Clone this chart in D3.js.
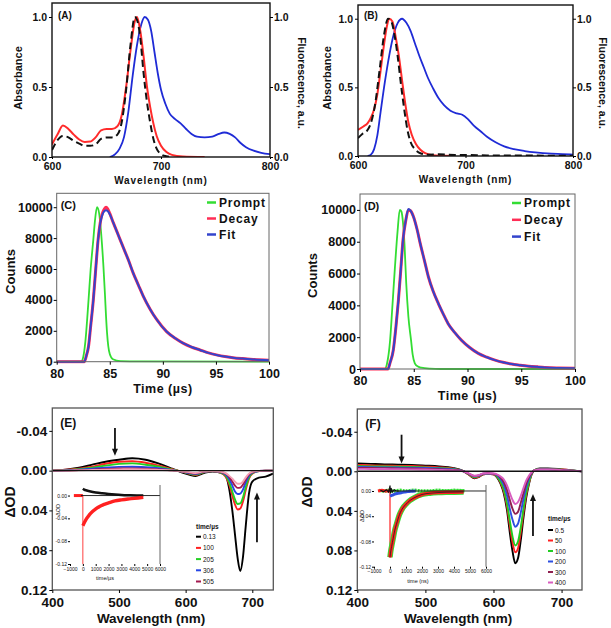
<!DOCTYPE html>
<html><head><meta charset="utf-8">
<script src="https://cdn.jsdelivr.net/npm/d3@7"></script>
<style>body{margin:0;background:#fff} svg{display:block}</style>
</head><body><script>
// ---------- DATA ----------
// Panel A
const wlAbsA = [600,605,610,615,620,625,630,635,640,645,650,655,660,664,668,672,676,678,681,684,687,690,693,696,700,705,710,720,740];
const absRedA = [0.09,0.16,0.225,0.2,0.16,0.125,0.108,0.11,0.14,0.19,0.2,0.2,0.22,0.3,0.5,0.76,0.97,1.0,0.9,0.72,0.51,0.36,0.24,0.15,0.08,0.035,0.015,0.004,0];
const absDashA = [0.05,0.12,0.15,0.14,0.115,0.095,0.08,0.08,0.09,0.13,0.14,0.14,0.16,0.25,0.48,0.8,1.0,0.98,0.85,0.6,0.4,0.25,0.13,0.06,0.02,0.005,0,null,null];
const wlFluA = [653,658,662,666,670,674,678,682,685,688,691,694,697,700,704,708,713,718,723,728,733,740,747,753,758,763,768,773,778,785,792,800];
const fluA = [0,0.02,0.06,0.14,0.32,0.58,0.8,0.95,1.0,0.98,0.9,0.75,0.6,0.48,0.38,0.31,0.27,0.24,0.2,0.165,0.145,0.14,0.145,0.165,0.175,0.165,0.14,0.1,0.07,0.045,0.03,0.02];
// Panel B
const wlRedB = [600,605,609,612,615,618,621,624,627,629,632,635,638,641,644,647,650,654,658,662,667,672,680,690];
const absRedB = [0.19,0.215,0.24,0.28,0.34,0.45,0.62,0.8,0.95,1.0,0.98,0.87,0.73,0.55,0.38,0.24,0.155,0.085,0.045,0.022,0.01,0.004,0.001,0];
const wlDashB = [600,604,608,612,616,620,624,628,631,634,637,640,643,646,649,653,658,665,675,690,700,720,760,800];
const absDashB = [0.13,0.16,0.18,0.24,0.38,0.62,0.87,1.0,0.98,0.88,0.72,0.52,0.34,0.19,0.1,0.05,0.02,0.01,0.012,0.008,0.008,0.004,0.003,0.002];
const wlFluB = [609,612,615,618,621,625,629,633,637,641,645,649,653,657,661,665,670,675,680,686,692,697,702,708,714,720,728,736,745,755,765,780,790,800];
const fluB = [0,0.01,0.05,0.15,0.32,0.54,0.73,0.88,0.97,1.0,0.97,0.91,0.82,0.73,0.65,0.57,0.49,0.42,0.37,0.33,0.31,0.3,0.27,0.22,0.18,0.14,0.1,0.07,0.05,0.036,0.026,0.017,0.014,0.01];
const absTicks = [0, 0.5, 1.0];
const wlTicksAB = [600, 700, 800];
// Panel C
const tPromptC = [80,82.3,82.5,82.7,83.0,83.2,83.45,83.6,83.8,84.0,84.2,84.4,84.55,84.65,84.75,84.86,85.0,85.3,86.0,88,100];
const promptC = [0,0,300,1300,4000,6000,7900,9100,10000,9600,8200,6200,4300,2900,1800,1000,500,160,40,20,0];
const tDecayC = [80,82.6,82.8,83.0,83.2,83.45,83.7,83.9,84.1,84.3,84.5,84.65,84.8,85.0,85.33,85.8,86.27,86.8,87.2,87.7,88.15,88.8,89.4,90.35,91.2,91.9,92.7,93.5,94.3,95.05,96,96.6,97.5,98.5,100];
const decayC = [0,0,400,1000,2300,4000,6200,7900,9000,9600,9900,10000,9900,9600,9000,8200,7400,6500,5750,4950,4250,3400,2750,1950,1500,1200,950,760,570,440,320,260,200,150,100];
const fitC = [0,0,400,1000,2300,4000,6200,7900,8950,9500,9750,9800,9750,9550,9000,8200,7400,6500,5750,4950,4250,3400,2750,1950,1500,1200,950,760,570,440,320,260,200,150,100];
// Panel D
const tPromptD = [80,82.3,82.5,82.8,83.0,83.25,83.5,83.7,83.85,84.0,84.15,84.3,84.5,84.75,84.9,85.1,85.4,85.7,86.5,87.5,100];
const promptD = [0,0,300,1800,3800,6400,8700,10000,9900,9200,7700,5400,3300,1800,900,360,150,80,20,0,0];
const tDecayD = [80,82.6,82.8,83.1,83.35,83.57,83.8,84.0,84.25,84.5,84.7,84.96,85.3,85.6,86.0,86.36,86.8,87.3,87.75,88.2,88.8,89.45,90.2,91,91.8,92.56,93.3,94.1,94.9,95.7,96.5,97.2,98.5,100];
const decayD = [0,0,400,1200,2700,4300,6300,8100,9300,10000,9950,9600,8800,7900,6800,5800,4900,4100,3450,2850,2300,1800,1350,980,740,560,420,310,240,180,135,100,65,40];
const fitD = [0,0,400,1200,2700,4300,6300,8100,9300,10050,9950,9600,8800,7900,6800,5800,4900,4100,3450,2850,2300,1800,1350,980,740,560,420,310,240,180,135,100,65,40];
const countTicks = [0,2000,4000,6000,8000,10000];
const timeTicks = [80,85,90,95,100];
const legendCD = ["Prompt","Decay","Fit"];
// Panel E
const wlE = [400,420,440,460,480,500,520,540,560,580,595,605,615,625,640,652,660,665,670,674,678,682,686,690,695,700,710,720,731];
const odE_013 = [0,-0.001,-0.003,-0.006,-0.009,-0.011,-0.0125,-0.011,-0.007,-0.002,0.002,0.004,0.0055,0.003,0.001,0.002,0.005,0.017,0.04,0.064,0.088,0.101,0.087,0.057,0.023,0.011,0.007,0.006,0.003];
const odE_100 = [0,-0.001,-0.002,-0.004,-0.007,-0.009,-0.0095,-0.008,-0.005,-0.0015,0.001,0.003,0.0045,0.002,0.0005,0.002,0.006,0.013,0.025,0.034,0.039,0.038,0.031,0.02,0.008,0.003,0.0005,0,0];
const odE_205 = [0,-0.0005,-0.0015,-0.003,-0.005,-0.0068,-0.0073,-0.006,-0.004,-0.001,0.001,0.0028,0.004,0.002,0.0005,0.002,0.005,0.011,0.021,0.029,0.0335,0.033,0.027,0.017,0.007,0.0025,0.0005,0,0];
const odE_306 = [0,-0.0003,-0.001,-0.002,-0.003,-0.0038,-0.004,-0.0035,-0.0025,-0.0005,0.001,0.0025,0.0035,0.0015,0.0005,0.0015,0.004,0.008,0.015,0.021,0.0235,0.023,0.019,0.012,0.005,0.002,0.0003,0,0];
const odE_505 = [0,0,-0.0005,-0.001,-0.0017,-0.0022,-0.0023,-0.002,-0.0013,-0.0003,0.001,0.002,0.003,0.0012,0.0004,0.0012,0.003,0.006,0.011,0.015,0.0173,0.017,0.014,0.009,0.004,0.0015,0.0002,0,0];
const odE_late = [0,0,-0.0003,-0.0006,-0.001,-0.0013,-0.0014,-0.0012,-0.0008,-0.0002,0.0008,0.0015,0.0025,0.001,0.0003,0.001,0.0025,0.005,0.008,0.011,0.0132,0.013,0.011,0.007,0.003,0.0012,0.0002,0,0];
const legendE = ["0.13","100","205","306","505"];
// Panel F
const wlF = [400,420,440,460,480,500,520,540,555,565,572,578,585,592,600,605,610,615,620,624,628,632,636,640,644,648,652,656,660,668,680,700,715,730];
const odF_05 = [-0.008,-0.0075,-0.007,-0.0068,-0.0065,-0.0058,-0.005,-0.0035,-0.0005,0.004,0.007,0.006,0.003,0.0025,0.003,0.006,0.012,0.022,0.04,0.062,0.081,0.093,0.088,0.07,0.047,0.027,0.013,0.003,-0.001,-0.003,-0.003,-0.002,-0.001,0];
const odF_50 = [-0.0065,-0.006,-0.0057,-0.0055,-0.0053,-0.0047,-0.004,-0.0028,-0.0004,0.0038,0.0065,0.0055,0.003,0.0025,0.003,0.0055,0.011,0.02,0.036,0.055,0.072,0.082,0.078,0.062,0.042,0.024,0.012,0.003,-0.001,-0.0025,-0.0025,-0.0018,-0.001,0];
const odF_100 = [-0.0055,-0.005,-0.0048,-0.0046,-0.0044,-0.004,-0.0034,-0.0024,-0.0003,0.0035,0.006,0.005,0.0028,0.0024,0.0028,0.005,0.01,0.018,0.033,0.05,0.066,0.075,0.071,0.057,0.038,0.022,0.011,0.0025,-0.001,-0.0023,-0.0023,-0.0016,-0.0008,0];
const odF_200 = [-0.0045,-0.0042,-0.004,-0.0038,-0.0036,-0.0033,-0.0028,-0.002,-0.0003,0.003,0.0052,0.0045,0.0025,0.0022,0.0026,0.004,0.0075,0.0135,0.025,0.038,0.049,0.056,0.053,0.042,0.028,0.016,0.008,0.002,-0.001,-0.002,-0.002,-0.0014,-0.0007,0];
const odF_300 = [-0.0035,-0.0033,-0.0031,-0.003,-0.0028,-0.0025,-0.0021,-0.0015,-0.0002,0.0028,0.0048,0.0042,0.0023,0.002,0.0024,0.0035,0.006,0.0105,0.019,0.029,0.038,0.043,0.041,0.032,0.022,0.0125,0.006,0.0015,-0.001,-0.002,-0.002,-0.0013,-0.0006,0];
const odF_400 = [-0.0025,-0.0024,-0.0023,-0.0022,-0.002,-0.0018,-0.0015,-0.001,-0.0001,0.0026,0.0045,0.004,0.0022,0.0019,0.0022,0.003,0.005,0.008,0.0145,0.022,0.029,0.033,0.031,0.025,0.017,0.0095,0.0045,0.001,-0.001,-0.0018,-0.0018,-0.0012,-0.0005,0];
const legendF = ["0.5","50","100","200","300","400"];
const odTicks = [-0.04, 0, 0.04, 0.08, 0.12];
const wlTicksEF = [400, 500, 600, 700];
// Arrows (wavelength, from, to)
const arrowsE = [[494,-0.043,-0.015],[707,0.072,0.022]];
const arrowsF = [[465,-0.037,-0.008],[658,0.0655,0.023]];
// Inset E (kinetics)
const tBlackE = [0,100,300,600,1000,1500,2000,2500,3000,3600,4200,4700];
const blackInsetE = [0.012,0.0105,0.009,0.0072,0.0055,0.004,0.0028,0.0018,0.001,0.0005,0.0002,0];
const tRedPreE = [-700,-500,-300,-100,0];
const redPreE = [0,0,0,0,0];
const tRedE = [0,150,300,500,750,1000,1300,1600,2000,2500,3000,3500,4000,4700];
const redInsetE = [-0.053,-0.046,-0.04,-0.034,-0.028,-0.0235,-0.019,-0.016,-0.013,-0.0095,-0.0075,-0.006,-0.005,-0.003];
const spikeE = [0, -0.12];
// Inset F
const tRedPreF = [-750,-500,-250,0];
const redPreF = [0,0.001,0,0];
const tRedF = [0,50,100,200,300,400,600,800,1000,1250,1500,2000,2500,3000,3500,4000,4600];
const redInsetF = [-0.105,-0.095,-0.088,-0.075,-0.062,-0.053,-0.037,-0.027,-0.021,-0.015,-0.011,-0.0055,-0.0035,-0.0025,-0.002,-0.0018,-0.0015];
const spikeF = [0, -0.106];
const tBlackF = [-600,-400,-200,-100,-30,0,30,80,150,250,400,600];
const blackInsetF = [0.001,-0.001,0.002,-0.002,0.004,0.008,-0.003,0.004,-0.002,0.002,0,0];
const tBlueF = [0,150,300,500,700,900,1100,1300,1600];
const blueInsetF = [-0.008,-0.0065,-0.005,-0.0038,-0.0027,-0.0018,-0.001,-0.0005,0];
const tGreenF = [-700,-400,-100,200,600,1000,1500,2000,2500,3000,3500,4000,4700];
const greenInsetF = [0.001,0,0.001,0,0.001,0,0.001,0,0,0.001,0,0.001,0];
const insetTimeTicks = [-1000,0,1000,2000,3000,4000,5000,6000];
const insetOdTicks = [0,-0.04,-0.08,-0.12];

// ---------- DRAW ----------
const FONT = '"Liberation Sans", Arial, Helvetica, sans-serif';
const svg = d3.select("body").append("svg").attr("width",611).attr("height",628);
let clipN = 0;
function clipG(x0,y0,x1,y1){
  const id = "clip"+(clipN++);
  svg.append("clipPath").attr("id",id).append("rect").attr("x",x0).attr("y",y0).attr("width",x1-x0).attr("height",y1-y0);
  return svg.append("g").attr("clip-path",`url(#${id})`);
}
function frame(x0,y0,x1,y1,stroke,sw){
  svg.append("rect").attr("x",x0).attr("y",y0).attr("width",x1-x0).attr("height",y1-y0)
    .attr("fill","none").attr("stroke",stroke).attr("stroke-width",sw);
}
function drawLine(g, xs, ys, sx, sy, color, w, opts={}){
  const pts = xs.map((x,i)=>[x,ys[i]]).filter(p=>p[1]!=null);
  const gen = d3.line().x(p=>sx(p[0])).y(p=>sy(p[1])).curve(opts.curve || d3.curveMonotoneX);
  return g.append("path").attr("d",gen(pts)).attr("fill","none").attr("stroke",color)
    .attr("stroke-width",w).attr("stroke-dasharray",opts.dash||null)
    .attr("stroke-linejoin","round").attr("stroke-linecap",opts.cap||"butt")
    .attr("opacity",opts.op||1);
}
function axis(gen, tx, ty, fs, fw, opts={}){
  const g = svg.append("g").attr("transform",`translate(${tx},${ty})`).call(gen);
  g.select(".domain").remove();
  g.selectAll("line").attr("stroke",opts.tc||"#000").attr("stroke-width",opts.tw||1);
  g.selectAll("text").attr("font-family",FONT).attr("font-size",fs).attr("font-weight",fw).attr("fill","#111")
    .attr("letter-spacing",opts.ls||null);
  return g;
}
function text(x,y,t,fs,opts={}){
  const el = svg.append("text").attr("font-family",FONT).attr("font-size",fs)
    .attr("font-weight",opts.fw||"bold").attr("fill",opts.fill||"#111")
    .attr("text-anchor",opts.anchor||"middle").attr("dominant-baseline","central")
    .attr("letter-spacing",opts.ls||null)
    .attr("transform",`translate(${x},${y})`+(opts.rot?` rotate(${opts.rot})`:""))
    .text(t);
  return el;
}
const f1 = d3.format(".1f");
const f2 = d => (Math.abs(d)<1e-9?0:d).toFixed(2);

// ===== Panel A & B =====
function specPanel(cfg){
  const x = d3.scaleLinear([600,800],[cfg.x0,cfg.x1]);
  const y = d3.scaleLinear([0,1.1],[cfg.y1,cfg.y0]);
  const g = clipG(cfg.x0,cfg.y0,cfg.x1,cfg.y1);
  cfg.draw(g,x,y);
  frame(cfg.x0,cfg.y0,cfg.x1,cfg.y1,"#111",1.4);
  axis(d3.axisLeft(y).tickValues(absTicks).tickFormat(f1).tickSize(3).tickPadding(2), cfg.x0,0,10.5,"bold");
  axis(d3.axisRight(y).tickValues(absTicks).tickFormat(f1).tickSize(3).tickPadding(1), cfg.x1,0,10.5,"bold");
  axis(d3.axisBottom(x).tickValues(wlTicksAB).tickFormat(d3.format("d")).tickSize(2).tickPadding(4), 0,cfg.y1,10.5,"bold");
  text((cfg.x0+cfg.x1)/2, cfg.y1+23, "Wavelength (nm)", 10, {ls:0.9});
  text(cfg.absX, 78, "Absorbance", 11, {rot:-90});
  text(cfg.fluX, 83, "Fluorescence, a.u.", 10.5, {rot:90});
  text(cfg.x0+6, 15, cfg.lab, 10, {anchor:"start"});
}
specPanel({x0:52,x1:270,y0:3,y1:157,absX:18,fluX:302,lab:"(A)",draw:(g,x,y)=>{
  drawLine(g,wlFluA,fluA,x,y,"#1f2bd6",1.8);
  drawLine(g,wlAbsA,absRedA,x,y,"#ff2b2b",2);
  drawLine(g,wlAbsA,absDashA,x,y,"#111",2,{dash:"7,4"});
}});
specPanel({x0:358,x1:573,y0:5,y1:156,absX:327,fluX:603,lab:"(B)",draw:(g,x,y)=>{
  drawLine(g,wlFluB,fluB,x,y,"#1f2bd6",1.8);
  drawLine(g,wlRedB,absRedB,x,y,"#ff2b2b",2);
  drawLine(g,wlDashB,absDashB,x,y,"#111",2,{dash:"7,4"});
}});

// ===== Panel C & D =====
function decayPanel(cfg){
  const x = d3.scaleLinear([80,100],[cfg.x0,cfg.x1]);
  const y = d3.scaleLinear([0,cfg.ymax],[cfg.y1,cfg.y0]);
  const g = clipG(cfg.x0,cfg.y0,cfg.x1,cfg.y1+2);
  drawLine(g,cfg.tp,cfg.p,x,y,"#33dd33",1.8);
  drawLine(g,cfg.td,cfg.d,x,y,"#ff2d55",3);
  drawLine(g,cfg.td,cfg.f,x,y,"#3344cc",2);
  frame(cfg.x0,cfg.y0,cfg.x1,cfg.y1,"#666",1);
  axis(d3.axisLeft(y).tickValues(countTicks).tickFormat(d3.format("d")).tickSize(3).tickPadding(1), cfg.x0,0,12.5,"bold");
  axis(d3.axisBottom(x).tickValues(timeTicks).tickFormat(d3.format("d")).tickSize(3).tickPadding(4), 0,cfg.y1,12.5,"bold");
  text((cfg.x0+cfg.x1)/2, cfg.y1+27, "Time (\u00b5s)", 12.5, {ls:0.5});
  text(cfg.cx, (cfg.y0+cfg.y1)/2+(cfg.cdy||0), "Counts", 13, {rot:-90});
  text(cfg.x0+4, cfg.y0+12, cfg.lab, 11, {anchor:"start"});
  const cols = ["#33dd33","#ff2d55","#3344cc"];
  legendCD.forEach((s,i)=>{
    const yy = cfg.ly + i*cfg.lsp;
    svg.append("line").attr("x1",cfg.lx).attr("x2",cfg.lx+9).attr("y1",yy).attr("y2",yy).attr("stroke",cols[i]).attr("stroke-width",2.5);
    text(cfg.lx+12, yy, s, 12, {anchor:"start", ls:0.8, fw:"bold"});
  });
}
decayPanel({x0:56.7,x1:269,y0:193.3,y1:361.7,ymax:10900,tp:tPromptC,p:promptC,td:tDecayC,d:decayC,f:fitC,cx:10,cdy:-6,lab:"(C)",lx:207,ly:202.5,lsp:16});
decayPanel({x0:360,x1:575,y0:194,y1:369,ymax:11000,tp:tPromptD,p:promptD,td:tDecayD,d:decayD,f:fitD,cx:312,cdy:-6,lab:"(D)",lx:512,ly:203,lsp:16.8});

// ===== Panel E & F =====
function arrow(x,y,wl,from,to){
  const X = x(wl), Y1 = y(from), Y2 = y(to);
  const dir = Y2>Y1?1:-1;
  svg.append("line").attr("x1",X).attr("x2",X).attr("y1",Y1).attr("y2",Y2-dir*5).attr("stroke","#111").attr("stroke-width",1.8);
  svg.append("path").attr("d",`M${X-3},${Y2-dir*7}L${X+3},${Y2-dir*7}L${X},${Y2}Z`).attr("fill","#111");
}
function taPanel(cfg){
  const x = d3.scaleLinear([400,cfg.xmax],[cfg.x0,cfg.x1]);
  const y = d3.scaleLinear([-0.063,0.12],[cfg.y0,cfg.y1]);
  const g = clipG(cfg.x0,cfg.y0,cfg.x1,cfg.y1);
  cfg.series.forEach(s=>drawLine(g,cfg.wl,s.v,x,y,s.c,1.9));
  g.append("line").attr("x1",x(400)).attr("x2",x(cfg.xmax)).attr("y1",y(0)).attr("y2",y(0)).attr("stroke","#111").attr("stroke-width",1.4);
  frame(cfg.x0,cfg.y0,cfg.x1,cfg.y1,"#555",1.3);
  axis(d3.axisLeft(y).tickValues(odTicks).tickFormat(f2).tickSize(3).tickPadding(2), cfg.x0,0,13.5,"bold");
  axis(d3.axisBottom(x).tickValues(wlTicksEF).tickFormat(d3.format("d")).tickSize(3).tickPadding(4), 0,cfg.y1,13.5,"bold");
  text(cfg.tx, 618, "Wavelength (nm)", 13.5);
  text(cfg.odx, cfg.ody, "\u0394OD", 14, {rot:-90});
  text(cfg.x0+8, cfg.y0+15, cfg.lab, 12, {anchor:"start"});
  cfg.arrows.forEach(a=>arrow(x,y,a[0],a[1],a[2]));
  // legend
  text(cfg.lgx, cfg.lgy, "time/\u00b5s", 6.5, {anchor:"start"});
  cfg.legend.forEach((s,i)=>{
    const yy = cfg.lgy + cfg.lg0 + i*cfg.lgs;
    svg.append("line").attr("x1",cfg.lgx).attr("x2",cfg.lgx+5).attr("y1",yy).attr("y2",yy).attr("stroke",cfg.series[i].c).attr("stroke-width",2);
    text(cfg.lgx+7, yy, s, 6.5, {anchor:"start", fw:"normal"});
  });
}
const colE = ["#000000","#ff2020","#22d022","#2546e6","#a3194f","#f2a0b4"];
taPanel({x0:52.3,x1:273.3,y0:408,y1:590,xmax:731.5,wl:wlE,tx:151,odx:10,ody:502,lab:"(E)",
  series:[{v:odE_013,c:colE[0]},{v:odE_100,c:colE[1]},{v:odE_205,c:colE[2]},{v:odE_306,c:colE[3]},{v:odE_505,c:colE[4]},{v:odE_late,c:colE[5]}],
  arrows:arrowsE, legend:legendE, lgx:196, lgy:526.7, lg0:10, lgs:11.2});
const colF = ["#000000","#ff2020","#22cc22","#2d4fe0","#8f1f4f","#d85cbf"];
taPanel({x0:357.3,x1:582,y0:409,y1:590,xmax:730,wl:wlF,tx:458,odx:307,ody:492,lab:"(F)",
  series:[{v:odF_05,c:colF[0]},{v:odF_50,c:colF[1]},{v:odF_100,c:colF[2]},{v:odF_200,c:colF[3]},{v:odF_300,c:colF[4]},{v:odF_400,c:colF[5]}],
  arrows:arrowsF, legend:legendF, lgx:548, lgy:518, lg0:12, lgs:10.5});

// ===== Insets =====
function inset(cfg){
  const x = d3.scaleLinear([-1000,6000],[cfg.x0,cfg.x1]);
  const y = d3.scaleLinear([-0.12,cfg.ytop],[cfg.y1,cfg.y0]);
  const g = svg.append("g");
  g.append("rect").attr("x",cfg.x0).attr("y",cfg.y0).attr("width",cfg.x1-cfg.x0).attr("height",cfg.y1-cfg.y0).attr("fill","#fff");
  cfg.draw(g,x,y);
  g.append("line").attr("x1",x(0)-2).attr("x2",cfg.x1).attr("y1",y(0)).attr("y2",y(0)).attr("stroke","#111").attr("stroke-width",0.9);
  g.append("line").attr("x1",cfg.x1).attr("x2",cfg.x1).attr("y1",cfg.y0).attr("y2",cfg.y1).attr("stroke","#555").attr("stroke-width",0.9);
  axis(d3.axisLeft(y).tickValues(insetOdTicks).tickFormat(f2).tickSize(2).tickPadding(1), cfg.x0,0,5,"normal");
  axis(d3.axisBottom(x).tickValues(insetTimeTicks).tickFormat(d3.format("d")).tickSize(2).tickPadding(1), 0,cfg.y1,5,"normal");
  text((cfg.x0+cfg.x1)/2+cfg.tdx, cfg.y1+14, cfg.tlab, 5.5, {fw:"normal"});
  text(cfg.x0-12, cfg.ody, "\u0394OD", 5.5, {rot:-90, fw:"normal"});
}
inset({x0:70,x1:160,y0:485,y1:564,ytop:0.0185,tlab:"time/\u00b5s",tdx:-10,ody:510,draw:(g,x,y)=>{
  drawLine(g,[0,0],spikeE,x,y,"#ff4040",1,{curve:d3.curveLinear});
  drawLine(g,tRedPreE,redPreE,x,y,"#ff2020",3);
  drawLine(g,tBlackE,blackInsetE,x,y,"#111",2.6);
  drawLine(g,tRedE,redInsetE,x,y,"#ff2020",3.4);
}});
inset({x0:374,x1:486,y0:485,y1:566.7,ytop:0.0095,tlab:"time (ns)",tdx:-12,ody:516,draw:(g,x,y)=>{
  drawLine(g,tGreenF,greenInsetF,x,y,"#33dd33",3.5,{dash:"2,1"});
  drawLine(g,[0,0],spikeF,x,y,"#ff4040",1.4,{curve:d3.curveLinear});
  drawLine(g,tRedPreF,redPreF,x,y,"#ff2020",3);
  drawLine(g,tBlueF,blueInsetF,x,y,"#3050e0",3);
  drawLine(g,tBlackF,blackInsetF,x,y,"#111",1.2,{curve:d3.curveLinear});
  drawLine(g,tRedF,redInsetF,x,y,"#33dd33",5.5);
  drawLine(g,tRedF,redInsetF,x,y,"#ff2020",3.5);
  drawLine(g,tRedF,redInsetF,x,y,"#222",0.8);
}});
</script></body></html>
